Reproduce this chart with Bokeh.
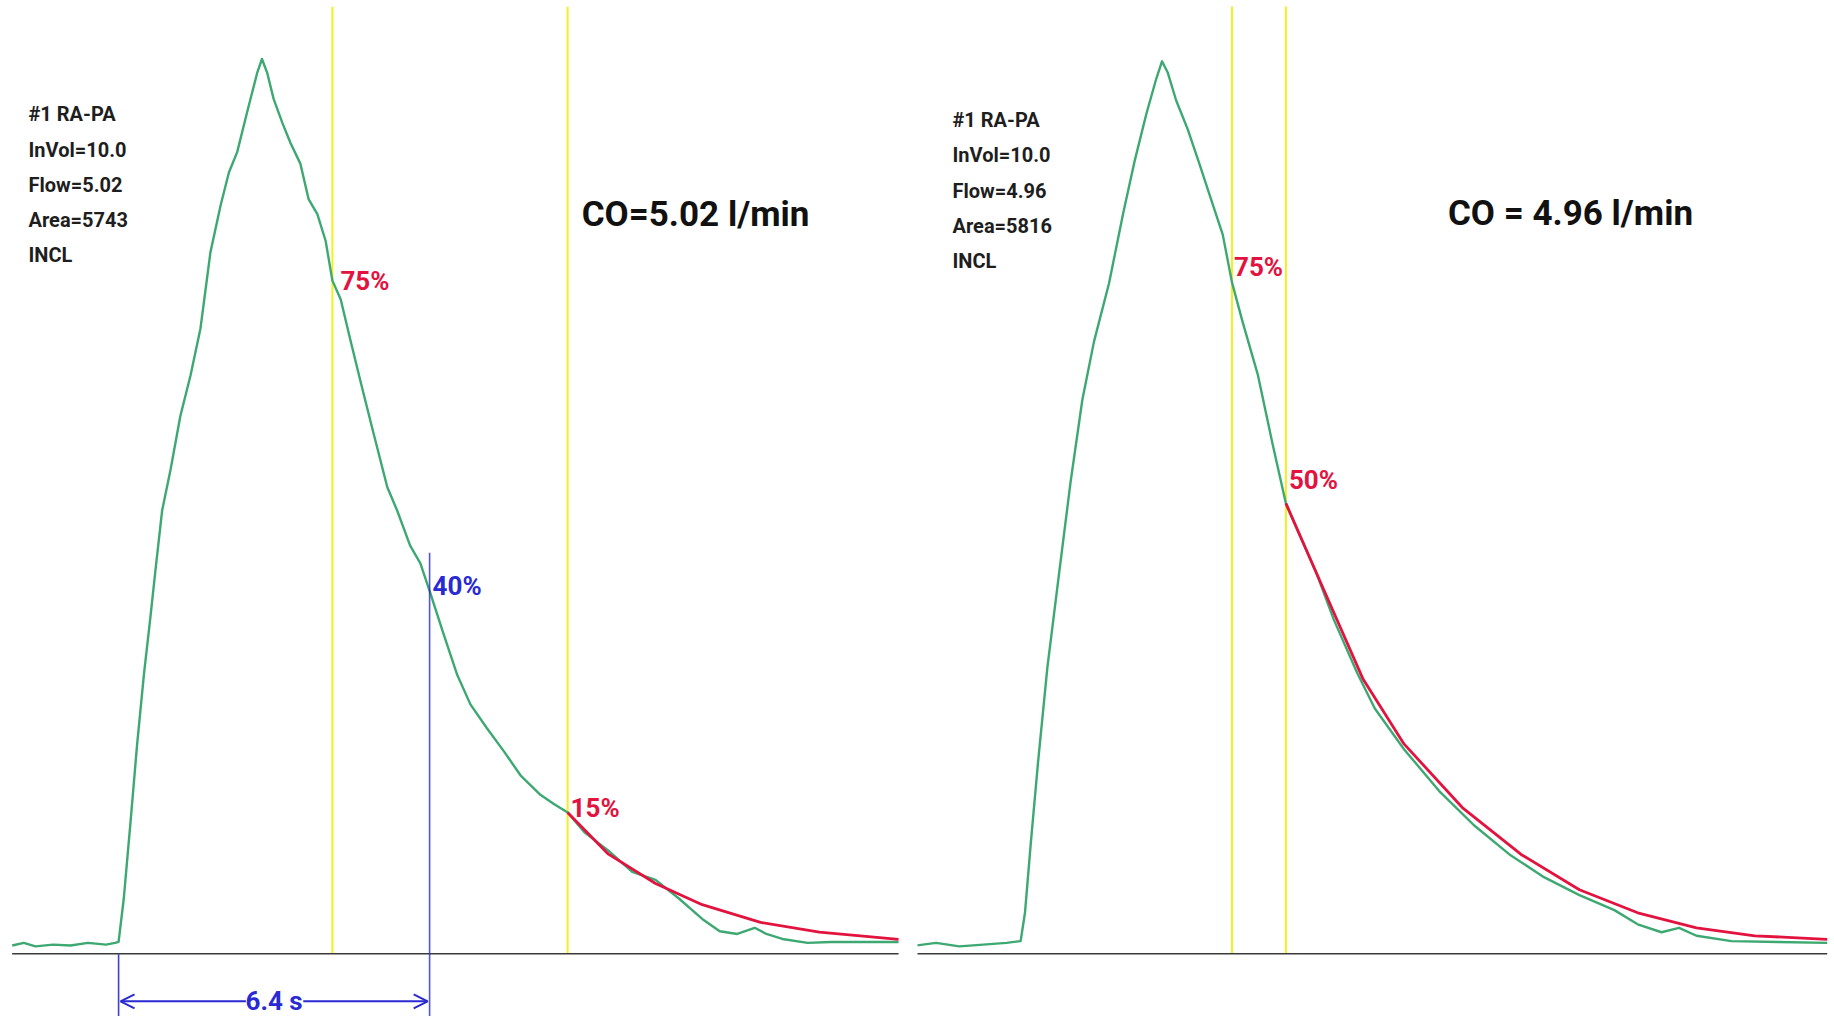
from bokeh.plotting import figure
from bokeh.layouts import row
from bokeh.models import Range1d, Label, Arrow, OpenHead
from bokeh.embed import file_html
from bokeh.resources import INLINE

# ---------------- data (time in s, concentration in % of peak) ----------------
left_t = [-2.19, -1.95, -1.71, -1.35, -0.99, -0.63, -0.26, -0.07, 0.0, 0.107, 0.245, 0.38,
          0.52, 0.656, 0.76, 0.897, 1.07, 1.27, 1.48, 1.685, 1.89, 2.10, 2.27, 2.44, 2.65,
          2.85, 2.95, 3.06, 3.19, 3.37, 3.54, 3.74, 3.91, 4.09, 4.26, 4.40, 4.57, 4.77,
          4.98, 5.25, 5.53, 5.73, 6.0, 6.21, 6.40, 6.69, 6.97, 7.24, 7.58, 7.93, 8.27,
          8.68, 8.95, 9.24, 9.60, 10.08, 10.57, 11.05, 11.53, 12.01, 12.37, 12.73, 13.09,
          13.33, 13.69, 14.18, 14.66, 15.38, 16.05]
left_v = [0.0, 0.3, -0.1, 0.1, 0.0, 0.3, 0.1, 0.3, 0.4, 5.3, 13.9, 22.6,
          30.5, 37.1, 42.4, 49.1, 53.7, 59.7, 64.3, 69.6, 78.2, 83.5, 87.2, 89.5, 94.1,
          98.4, 100.0, 98.4, 95.5, 92.8, 90.5, 88.2, 84.2, 82.5, 79.5, 75.0, 72.9, 68.3,
          63.6, 57.7, 51.7, 49.1, 45.1, 43.1, 40.0, 35.1, 30.5, 27.2, 24.5, 21.9, 19.2,
          17.0, 16.0, 15.0, 12.7, 10.7, 8.3, 7.4, 5.3, 3.0, 1.6, 1.3, 2.0,
          1.3, 0.7, 0.3, 0.4, 0.4, 0.4]
left_fit_t = [9.24, 10.08, 11.05, 12.01, 13.21, 14.42, 16.05]
left_fit_v = [15.0, 10.3, 7.0, 4.6, 2.6, 1.5, 0.7]

right_t = [-2.17, -1.76, -1.28, -0.79, -0.31, -0.02, 0.07, 0.19, 0.34, 0.53, 0.77, 1.01,
           1.25, 1.49, 1.80, 2.09, 2.33, 2.57, 2.77, 2.89, 3.01, 3.18, 3.42, 3.66, 3.90,
           4.14, 4.33, 4.55, 4.86, 5.17, 5.44, 5.70, 6.07, 6.43, 6.91, 7.27, 7.87, 8.59,
           9.31, 10.04, 10.76, 11.48, 12.20, 12.68, 13.17, 13.53, 13.89, 14.61, 15.57, 16.58]
right_v = [0.0, 0.3, -0.1, 0.1, 0.3, 0.5, 3.7, 11.6, 20.8, 31.4, 42.0, 52.5,
           61.7, 68.3, 74.9, 82.8, 88.8, 94.1, 98.0, 100.0, 98.7, 95.6, 92.3, 88.4, 84.4,
           80.4, 75.0, 70.5, 64.6, 56.6, 50.0, 46.7, 42.1, 36.8, 30.8, 26.8, 22.2, 17.5,
           13.6, 10.3, 7.7, 5.7, 4.0, 2.4, 1.5, 2.0, 1.1, 0.5, 0.4, 0.3]
right_fit_t = [5.44, 6.19, 7.03, 7.87, 9.07, 10.28, 11.48, 12.68, 13.89, 15.09, 16.58]
right_fit_v = [50.0, 40.6, 30.1, 22.8, 15.6, 10.3, 6.3, 3.7, 2.0, 1.1, 0.7]

left_mark_t = [4.40, 9.24]          # yellow markers
left_mark_pct = ["75%", "15%"]
left_mark_v = [75, 15]
blue_mark_t = 6.40                   # 40 % point
blue_mark_v = 40
blue_mark_pct = "40%"
transit_label = "6.4 s"

right_mark_t = [4.33, 5.44]
right_mark_pct = ["75%", "50%"]
right_mark_v = [75, 50]

left_info = ["#1 RA-PA", "InVol=10.0", "Flow=5.02", "Area=5743", "INCL"]
right_info = ["#1 RA-PA", "InVol=10.0", "Flow=4.96", "Area=5816", "INCL"]
left_co = "CO=5.02 l/min"
right_co = "CO = 4.96 l/min"

# ---------------- styling ----------------
FONT = "Roboto"
GREEN = "#3da872"
RED = "#e2133f"
YELLOW = "#f4ef1e"
BLUE = "#2a2ad2"
W, H = 917, 1016


def panel(t, v, fit_t, fit_v, mark_t, mark_v, mark_pct, pct_offsets, info, info_x, info_y,
          co, co_x, co_y, xr, yr, axis_lo, axis_hi, top):
    p = figure(width=W, height=H, x_range=Range1d(*xr), y_range=Range1d(*yr),
               output_backend="svg", toolbar_location=None,
               x_axis_location=None, y_axis_location=None,
               min_border=0, min_border_left=0, min_border_right=0,
               min_border_top=0, min_border_bottom=0)
    p.grid.visible = False
    p.outline_line_color = None
    p.background_fill_color = "white"
    p.border_fill_color = "white"
    axis_level = -0.93
    p.segment(x0=mark_t, y0=[axis_level] * len(mark_t), x1=mark_t, y1=[top] * len(mark_t),
              line_color=YELLOW, line_width=2)
    p.segment(x0=[axis_lo], y0=[axis_level], x1=[axis_hi], y1=[axis_level],
              line_color="#3a3a3a", line_width=1.6)
    p.line(t, v, line_color=GREEN, line_width=2.4, line_join="round")
    p.line(fit_t, fit_v, line_color=RED, line_width=2.8, line_join="round")
    for tt, vv, txt, (dx, dy) in zip(mark_t, mark_v, mark_pct, pct_offsets):
        p.add_layout(Label(x=tt, y=vv, text=txt, x_offset=dx, y_offset=dy,
                           text_font=FONT, text_font_size="26px", text_font_style="bold",
                           text_color=RED, text_align="left", text_baseline="middle"))
    for i, line in enumerate(info):
        p.add_layout(Label(x=info_x, y=H - info_y[i], x_units="screen", y_units="screen",
                           text=line, text_font=FONT, text_font_size="20px",
                           text_font_style="bold", text_color="#1e1e1e",
                           text_align="left", text_baseline="middle"))
    p.add_layout(Label(x=co_x, y=H - co_y, x_units="screen", y_units="screen", text=co,
                       text_font=FONT, text_font_size="35px", text_font_style="bold",
                       text_color="#111111", text_align="center", text_baseline="middle"))
    return p


left = panel(left_t, left_v, left_fit_t, left_fit_v, left_mark_t, left_mark_v, left_mark_pct,
             [(8, 0), (3, 5)], left_info, 28, [113, 149, 184, 219, 254],
             left_co, 695, 214, (-2.43, 16.44), (-8.01, 106.6), -2.19, 16.05, 105.9)

# blue 40 % marker and transit-time arrow
left.segment(x0=[blue_mark_t], y0=[-8.1], x1=[blue_mark_t], y1=[44.3],
             line_color=BLUE, line_width=1.6, line_alpha=0.8)
left.segment(x0=[0.0], y0=[-8.1], x1=[0.0], y1=[-1.0], line_color=BLUE, line_width=1.6,
             line_alpha=0.9)
left.add_layout(Label(x=blue_mark_t, y=blue_mark_v, text=blue_mark_pct, x_offset=3, y_offset=5,
                      text_font=FONT, text_font_size="26px", text_font_style="bold",
                      text_color=BLUE, text_align="left", text_baseline="middle"))
arrow_y = -6.3
left.add_layout(Arrow(x_start=2.62, y_start=arrow_y, x_end=0.04, y_end=arrow_y,
                      line_color=BLUE, line_width=2,
                      end=OpenHead(size=14, line_color=BLUE, line_width=2)))
left.add_layout(Arrow(x_start=3.80, y_start=arrow_y, x_end=blue_mark_t - 0.04, y_end=arrow_y,
                      line_color=BLUE, line_width=2,
                      end=OpenHead(size=14, line_color=BLUE, line_width=2)))
left.add_layout(Label(x=blue_mark_t / 2, y=arrow_y, text=transit_label,
                      text_font=FONT, text_font_size="26px", text_font_style="bold",
                      text_color=BLUE, text_align="center", text_baseline="middle"))

right = panel(right_t, right_v, right_fit_t, right_fit_v, right_mark_t, right_mark_v,
              right_mark_pct, [(2, 15), (3, 23)], right_info, 35,
              [119, 154, 190, 225, 260], right_co, 653, 213,
              (-2.142, 16.73), (-8.03, 106.88), -2.17, 16.58, 106.2)

layout = row(left, right, spacing=0)
open("out.html", "w").write(file_html(layout, INLINE))
